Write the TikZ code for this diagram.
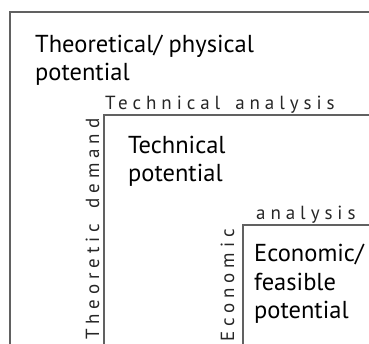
\documentclass[tikz,border=0pt]{standalone}
\usepackage{fontspec}
\setmainfont{PT Sans}
\newfontfamily\spacedfont[LetterSpace=26]{PT Sans}
\begin{document}
\begin{tikzpicture}[x=1pt,y=1pt,
  frame/.style={draw=black!62,line width=2pt},
  title/.style={anchor=base west,inner sep=0pt,font=\fontsize{24.5}{28}\selectfont,align=left,text=black},
  lab/.style={inner sep=0pt,font=\spacedfont\fontsize{19}{19}\selectfont,text=black!85}]
\useasboundingbox (0,0) rectangle (369,-344);
\clip (0,0) rectangle (369,-344);
% frames
\draw[frame] (9.5,-400) -- (9.5,-12.5) -- (400,-12.5);
\draw[frame] (104,-400) -- (104,-115) -- (400,-115);
\draw[frame] (243,-400) -- (243,-225) -- (400,-225);
% titles (anchored at the baseline of their last line)
\node[title] (t1) at (35,-81) {Theoretical/ physical\\potential};
\node[title] (t2) at (128,-182) {Technical\\potential};
\node[title] (t3) at (254,-318) {Economic/\\feasible\\potential};
% labels
\node[lab,anchor=base west] (l1) at (105,-110) {Technical\hspace{15pt}analysis};
\node[lab,anchor=base west] (l2) at (256,-220) {analysis};
\node[lab,anchor=base west,rotate=90] (l3) at (99,-340) {Theoretic\hspace{15pt}demand};
\node[lab,anchor=base west,rotate=90] (l4) at (234,-342) {Economic};
\end{tikzpicture}
\end{document}
